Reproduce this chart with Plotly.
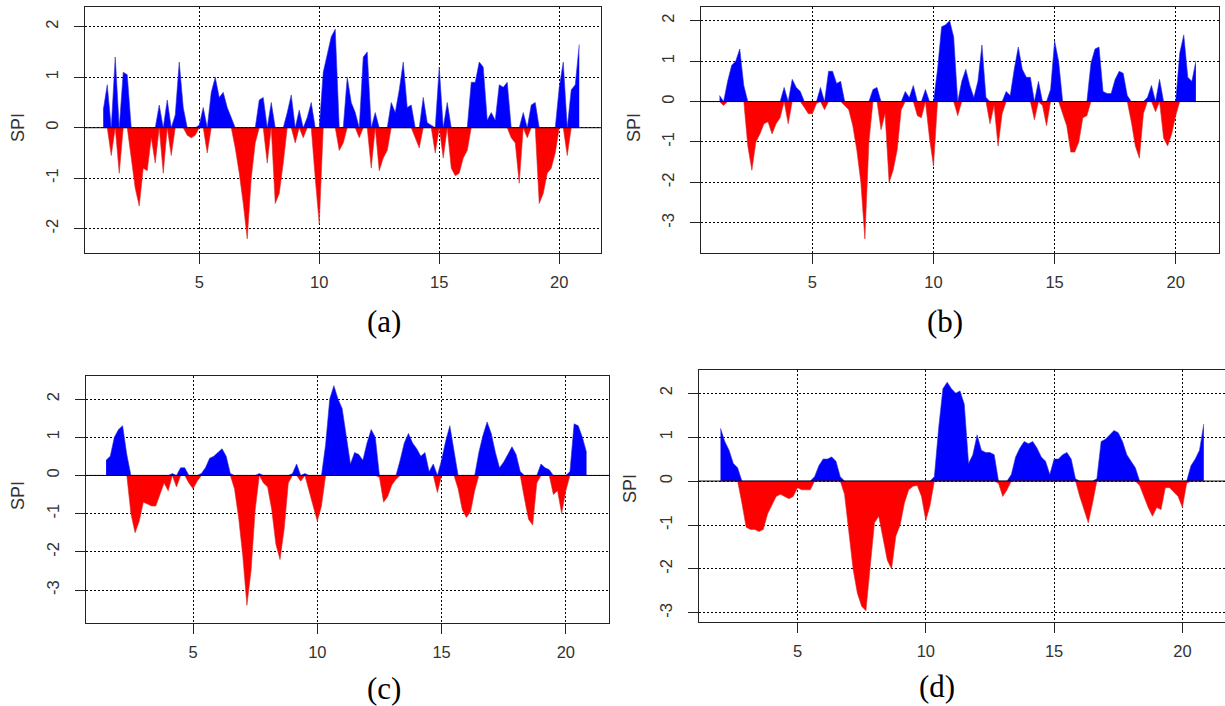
import plotly.graph_objects as go

# time step: 2 months, in "year" units of the x axis
step = 1 / 6

a_start = 1.0
a_spi = [0.35, 0.85, -0.55, 1.4, -0.9, 1.1, 1.05, -0.6, -1.2, -1.55,
         -0.8, -0.85, -0.2, -0.7, 0.45, -0.9, 0.55, -0.55, 0.25, 1.3,
         0.4, -0.15, -0.2, -0.15, 0.05, 0.4, -0.5, 0.7, 1.0, 0.6,
         0.7, 0.4, 0.2, -0.4, -0.9, -1.5, -2.2, -1.0, -0.3, 0.55,
         0.6, -0.7, 0.5, -1.5, -1.3, -0.7, 0.3, 0.65, -0.3, 0.35,
         -0.2, 0.2, 0.5, -1.0, -1.9, 1.1, 1.45, 1.8, 1.95, -0.45,
         -0.3, 1.0, 0.5, 0.3, -0.2, 1.4, 1.5, -0.8, 0.3, -0.85,
         -0.6, -0.45, 0.5, 0.3, 0.75, 1.3, 0.4, 0.45, -0.2, -0.4,
         0.6, 0.1, 0.05, -0.5, 1.2, -0.6, 0.5, -0.8, -0.95, -0.9,
         -0.6, -0.45, 0.9, 0.9, 1.3, 1.2, 0.15, 0.3, 0.15, 0.85,
         0.8, 0.9, -0.2, -0.3, -1.1, 0.3, -0.2, 0.45, 0.5, -1.5,
         -1.3, -0.9, -0.8, -0.5, 0.8, 1.3, -0.55, 0.75, 0.85, 1.65]

b_start = 1.0 + 1 / 6
b_spi = [0.15, -0.1, 0.5, 0.9, 1.0, 1.3, 0.4, -1.1, -1.7, -1.0,
         -0.8, -0.55, -0.5, -0.8, -0.55, -0.4, 0.35, -0.55, 0.55, 0.35,
         0.25, -0.15, -0.3, -0.3, -0.05, 0.35, -0.2, 0.75, 0.75, 0.45,
         0.5, -0.1, -0.2, -0.6, -1.2, -2.0, -3.4, -1.0, 0.3, 0.35,
         -0.7, -0.3, -2.0, -1.7, -1.2, -0.2, 0.25, 0.1, 0.4, -0.35,
         -0.4, 0.3, -0.9, -1.6, 0.8, 1.85, 1.9, 2.0, 1.6, -0.35,
         0.5, 0.8, 0.4, 0.1, 0.5, 1.4, 0.1, -0.55, -0.1, -1.1,
         -0.3, 0.25, 0.15, 0.8, 1.35, 0.8, 0.6, 0.6, -0.45, 0.5,
         -0.1, -0.6, 0.3, 1.5, 1.0, -0.3, -0.6, -1.25, -1.25, -1.0,
         -0.4, -0.35, 0.95, 1.3, 1.35, 0.25, 0.2, 0.2, 0.55, 0.75,
         0.7, 0.15, -0.5, -1.1, -1.4, -0.3, 0.1, 0.4, -0.25, 0.55,
         -0.9, -1.1, -0.8, -0.35, 1.2, 1.65, 0.6, 0.5, 1.0]

c_start = 1.5
c_spi = [0.4, 0.5, 1.0, 1.2, 1.3, 0.55, -1.0, -1.5, -1.2, -0.7,
         -0.75, -0.8, -0.8, -0.5, -0.2, -0.4, 0.05, -0.3, 0.2, 0.2,
         -0.2, -0.35, -0.15, 0.05, 0.2, 0.45, 0.5, 0.6, 0.7, 0.5,
         0.05, -0.35, -1.1, -2.1, -3.4, -2.5, -0.9, 0.05, -0.2, -0.3,
         -0.9, -1.8, -2.2, -1.4, -0.2, 0.05, 0.3, -0.15, 0.05, -0.4,
         -0.8, -1.2, -0.8, 0.8, 2.0, 2.35, 2.0, 1.75, 1.0, 0.3,
         0.6, 0.55, 0.4, 0.85, 1.2, 1.0, -0.05, -0.7, -0.55, -0.25,
         -0.1, 0.4, 0.85, 1.1, 0.85, 0.7, 0.5, 0.6, 0.1, 0.3,
         -0.45, 0.4, 0.9, 1.3, 0.6, -0.35, -0.9, -1.1, -0.95, -0.4,
         0.6, 1.05, 1.4, 1.1, 0.6, 0.2, 0.35, 0.55, 0.75, 0.55,
         0.1, -0.6, -1.15, -1.3, -0.2, 0.3, 0.2, 0.15, -0.5, -0.4,
         -1.0, -0.4, 0.1, 1.35, 1.3, 1.0, 0.6]

d_start = 2.0
d_spi = [1.2, 0.9, 0.7, 0.4, 0.3, -0.5, -1.05, -1.1, -1.1, -1.15,
         -1.1, -0.75, -0.55, -0.35, -0.3, -0.35, -0.4, -0.35, -0.15, -0.2,
         -0.2, -0.2, 0.1, 0.35, 0.5, 0.5, 0.55, 0.45, 0.1, -0.3,
         -1.2, -2.0, -2.55, -2.85, -2.95, -2.0, -0.95, -0.8, -1.3, -1.8,
         -2.0, -1.25, -1.0, -0.5, -0.2, -0.12, -0.1, -0.35, -0.9, -0.55,
         0.1, 1.2, 2.1, 2.25, 2.1, 2.0, 2.05, 1.75, 0.4, 0.6,
         1.05, 0.7, 0.65, 0.65, 0.6, -0.05, -0.35, -0.2, 0.15, 0.55,
         0.75, 0.9, 0.85, 0.9, 0.75, 0.55, 0.45, 0.15, 0.5, 0.5,
         0.6, 0.65, 0.5, 0.05, -0.35, -0.65, -0.95, -0.5, 0.05, 0.9,
         0.95, 1.05, 1.15, 1.1, 0.9, 0.6, 0.45, 0.3, -0.1, -0.35,
         -0.6, -0.8, -0.6, -0.65, -0.15, -0.15, -0.25, -0.35, -0.6, -0.05,
         0.35, 0.5, 0.7, 1.3]

x_ticks = [5, 10, 15, 20]
captions = ["(a)", "(b)", "(c)", "(d)"]

W, H = 1225, 706

panels = [
    dict(v=a_spi, s=a_start, box=(85, 601, 7, 253), xr=(0.24, 21.74), yr=(-2.48, 2.39),
         yt=[-2, -1, 0, 1, 2], lab=(18, 128), cap=(384, 322)),
    dict(v=b_spi, s=b_start, box=(701, 1219.3, 7, 252.7), xr=(0.40, 21.80), yr=(-3.74, 2.34),
         yt=[-3, -2, -1, 0, 1, 2], lab=(634, 128), cap=(945, 322)),
    dict(v=c_spi, s=c_start, box=(85.7, 609.3, 375.7, 623.3), xr=(0.68, 21.75), yr=(-3.87, 2.61),
         yt=[-3, -2, -1, 0, 1, 2], lab=(18, 496), cap=(384, 688)),
    dict(v=d_spi, s=d_start, box=(698.7, 1225, 370.3, 621.7), xr=(1.15, 21.66), yr=(-3.2, 2.52),
         yt=[-3, -2, -1, 0, 1, 2], lab=(630, 488), cap=(937, 686)),
]

fig = go.Figure()
layout = dict(width=W, height=H, margin=dict(l=0, r=0, t=0, b=0),
              paper_bgcolor="white", plot_bgcolor="white", showlegend=False,
              annotations=[], shapes=[])

sans = "Liberation Sans, Arial, sans-serif"
font_tick = dict(family=sans, size=16.5, color="#333333")

for k, p in enumerate(panels):
    n = k + 1
    xa = "x" if n == 1 else f"x{n}"
    ya = "y" if n == 1 else f"y{n}"
    xs = [p["s"] + j * step for j in range(len(p["v"]))]
    pos = [max(v, 0.0) for v in p["v"]]
    neg = [min(v, 0.0) for v in p["v"]]
    fig.add_trace(go.Scatter(x=xs, y=pos, mode="lines", fill="tozeroy", fillcolor="#0000FF",
                             line=dict(color="#3030D0", width=0.6), xaxis=xa, yaxis=ya))
    fig.add_trace(go.Scatter(x=xs, y=neg, mode="lines", fill="tozeroy", fillcolor="#FF0000",
                             line=dict(color="#D03030", width=0.6), xaxis=xa, yaxis=ya))
    x0, x1, y0, y1 = p["box"]
    xd = [x0 / W, min(x1 / W, 1.0)]
    yd = [1 - y1 / H, 1 - y0 / H]
    axis_common = dict(showline=True, mirror=True, linecolor="#222222", linewidth=1,
                       ticks="outside", ticklen=10, tickcolor="#222222", tickwidth=1,
                       showgrid=True, gridcolor="black", griddash="2px,2px", gridwidth=1,
                       zeroline=False, tickfont=font_tick)
    xkey = "xaxis" if n == 1 else f"xaxis{n}"
    ykey = "yaxis" if n == 1 else f"yaxis{n}"
    layout[xkey] = dict(domain=xd, range=list(p["xr"]), anchor=ya, tickvals=x_ticks,
                        ticktext=[str(t) for t in x_ticks], ticklabelstandoff=4, **axis_common)
    layout[ykey] = dict(domain=yd, range=list(p["yr"]), anchor=xa, tickvals=p["yt"],
                        ticktext=[str(t) for t in p["yt"]],
                        tickangle=-90, ticklabelstandoff=9, **axis_common)
    layout["shapes"].append(dict(type="line", xref=f"{xa} domain", yref=ya, x0=0, x1=1, y0=0, y1=0,
                                 line=dict(color="black", width=1), layer="above"))
    lx, ly = p["lab"]
    layout["annotations"].append(dict(text="SPI", x=lx / W, y=1 - ly / H, xref="paper", yref="paper",
                                      showarrow=False, textangle=-90, xanchor="center", yanchor="middle",
                                      font=dict(family=sans, size=18, color="#333333")))
    cx, cy = p["cap"]
    layout["annotations"].append(dict(text=captions[k], x=cx / W, y=1 - cy / H, xref="paper", yref="paper",
                                      showarrow=False, xanchor="center", yanchor="middle",
                                      font=dict(family="Liberation Serif, Times New Roman, serif", size=31, color="black")))

fig.update_layout(**layout)
fig.write_html("out.html", config={"displayModeBar": False},
               post_script="document.body.style.margin='0';document.body.style.overflow='hidden';")
